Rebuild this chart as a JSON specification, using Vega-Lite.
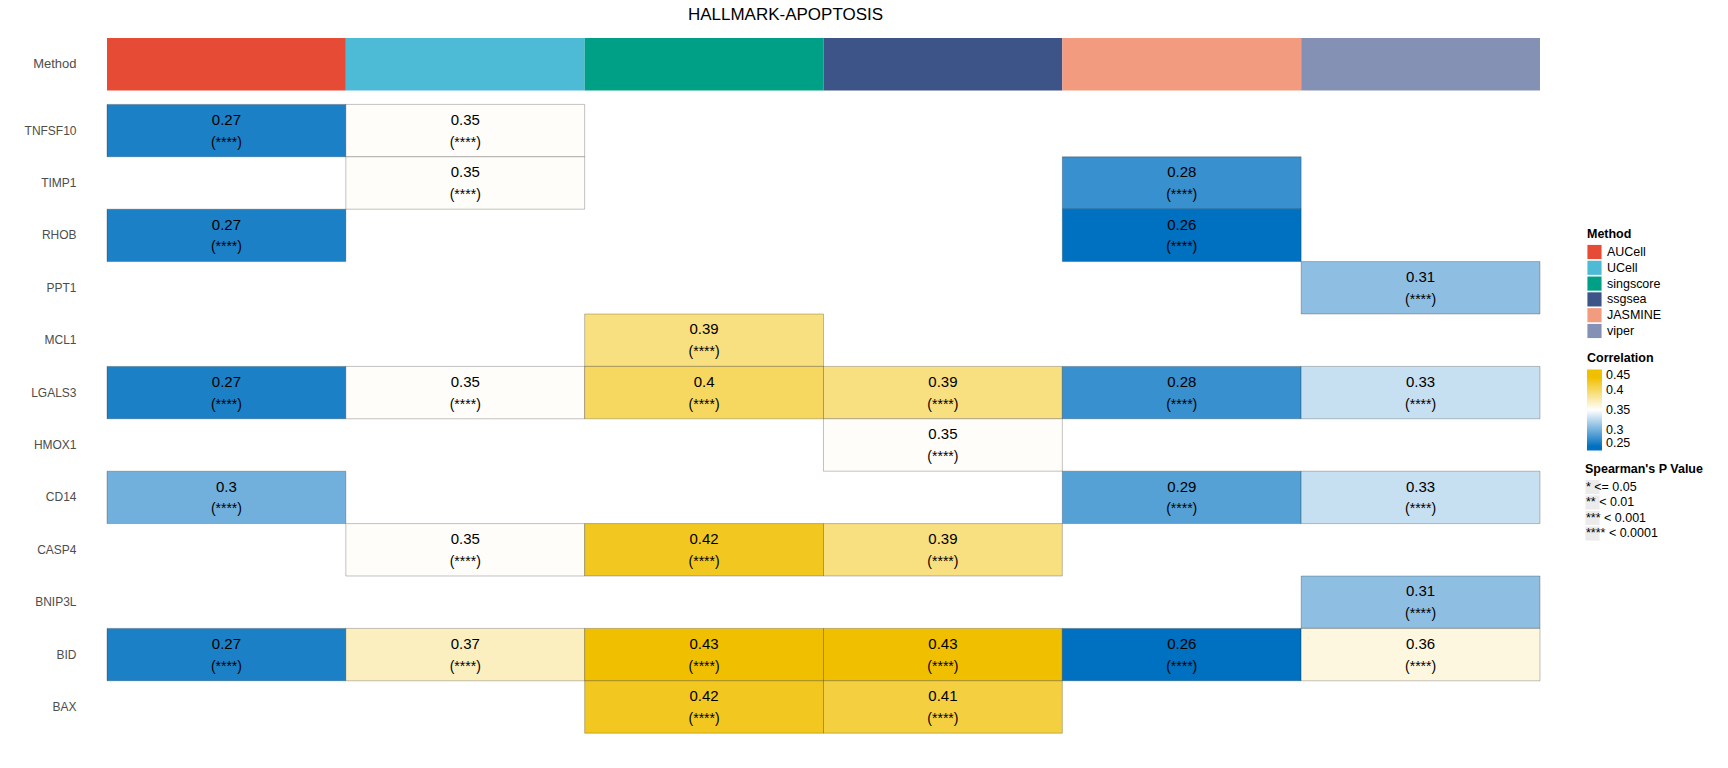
{
  "$schema": "https://vega.github.io/schema/vega-lite/v6.json",
  "padding": {"left": 23, "top": 6, "right": 5, "bottom": 5},
  "background": "white",
  "width": 1433,
  "height": 681.2,
  "title": {"text": "HALLMARK-APOPTOSIS", "anchor": "middle", "frame": "group", "dx": -38, "fontSize": 17, "fontWeight": "normal", "font": "Liberation Sans", "color": "#000000", "offset": 14},
  "config": {
    "view": {"stroke": null},
    "font": "Liberation Sans",
    "legend": {"titleFont": "Liberation Sans", "labelFont": "Liberation Sans", "titleColor": "#000000", "labelColor": "#000000"}
  },
  "datasets": {
    "methods": [
      {"row": "Method", "method": "AUCell"},
      {"row": "Method", "method": "UCell"},
      {"row": "Method", "method": "singscore"},
      {"row": "Method", "method": "ssgsea"},
      {"row": "Method", "method": "JASMINE"},
      {"row": "Method", "method": "viper"}
    ],
    "cells": [
      {"gene": "TNFSF10", "method": "AUCell", "r": 0.27, "p": "(****)"},
      {"gene": "TNFSF10", "method": "UCell", "r": 0.352, "p": "(****)"},
      {"gene": "TIMP1", "method": "UCell", "r": 0.352, "p": "(****)"},
      {"gene": "TIMP1", "method": "JASMINE", "r": 0.28, "p": "(****)"},
      {"gene": "RHOB", "method": "AUCell", "r": 0.27, "p": "(****)"},
      {"gene": "RHOB", "method": "JASMINE", "r": 0.26, "p": "(****)"},
      {"gene": "PPT1", "method": "viper", "r": 0.31, "p": "(****)"},
      {"gene": "MCL1", "method": "singscore", "r": 0.39, "p": "(****)"},
      {"gene": "LGALS3", "method": "AUCell", "r": 0.27, "p": "(****)"},
      {"gene": "LGALS3", "method": "UCell", "r": 0.352, "p": "(****)"},
      {"gene": "LGALS3", "method": "singscore", "r": 0.4, "p": "(****)"},
      {"gene": "LGALS3", "method": "ssgsea", "r": 0.39, "p": "(****)"},
      {"gene": "LGALS3", "method": "JASMINE", "r": 0.28, "p": "(****)"},
      {"gene": "LGALS3", "method": "viper", "r": 0.33, "p": "(****)"},
      {"gene": "HMOX1", "method": "ssgsea", "r": 0.352, "p": "(****)"},
      {"gene": "CD14", "method": "AUCell", "r": 0.3, "p": "(****)"},
      {"gene": "CD14", "method": "JASMINE", "r": 0.29, "p": "(****)"},
      {"gene": "CD14", "method": "viper", "r": 0.33, "p": "(****)"},
      {"gene": "CASP4", "method": "UCell", "r": 0.352, "p": "(****)"},
      {"gene": "CASP4", "method": "singscore", "r": 0.42, "p": "(****)"},
      {"gene": "CASP4", "method": "ssgsea", "r": 0.39, "p": "(****)"},
      {"gene": "BNIP3L", "method": "viper", "r": 0.31, "p": "(****)"},
      {"gene": "BID", "method": "AUCell", "r": 0.27, "p": "(****)"},
      {"gene": "BID", "method": "UCell", "r": 0.37, "p": "(****)"},
      {"gene": "BID", "method": "singscore", "r": 0.43, "p": "(****)"},
      {"gene": "BID", "method": "ssgsea", "r": 0.43, "p": "(****)"},
      {"gene": "BID", "method": "JASMINE", "r": 0.26, "p": "(****)"},
      {"gene": "BID", "method": "viper", "r": 0.36, "p": "(****)"},
      {"gene": "BAX", "method": "singscore", "r": 0.42, "p": "(****)"},
      {"gene": "BAX", "method": "ssgsea", "r": 0.41, "p": "(****)"}
    ],
    "plevels": [
      {"key": "*", "label": "<= 0.05"},
      {"key": "**", "label": "< 0.01"},
      {"key": "***", "label": "< 0.001"},
      {"key": "****", "label": "< 0.0001"}
    ]
  },
  "encoding": {
    "x": {"field": "method", "type": "nominal", "scale": {"domain": ["AUCell", "UCell", "singscore", "ssgsea", "JASMINE", "viper"], "paddingInner": 0, "paddingOuter": 0}, "axis": null},
    "y": {"field": "gene", "type": "nominal", "scale": {"domain": ["Method", "TNFSF10", "TIMP1", "RHOB", "PPT1", "MCL1", "LGALS3", "HMOX1", "CD14", "CASP4", "BNIP3L", "BID", "BAX"], "paddingInner": 0, "paddingOuter": 0},
      "axis": {"title": null, "ticks": false, "domain": false, "labelColor": "#4D4D4D", "labelPadding": 31, "labelFont": "Liberation Sans",
        "labelFontSize": {"condition": {"test": "datum.value === 'Method'", "value": 13}, "value": 12},
        "labelOffset": {"condition": {"test": "datum.value === 'Method'", "value": -14}, "value": 0}}}
  },
  "layer": [
    {
      "data": {"name": "methods"},
      "mark": {"type": "rect", "yOffset": -14, "y2Offset": -14},
      "encoding": {
        "y": {"field": "row", "type": "nominal"},
        "color": {
          "field": "method", "type": "nominal",
          "scale": {"domain": ["AUCell", "UCell", "singscore", "ssgsea", "JASMINE", "viper"], "range": ["#E64B35", "#4DBBD5", "#00A087", "#3C5488", "#F39B7F", "#8491B4"]},
          "legend": {"title": "Method", "orient": "none", "legendX": 1480, "legendY": 176, "symbolType": "square", "symbolSize": 200, "symbolStrokeWidth": 0, "symbolOpacity": 1, "titleFontSize": 12.5, "labelFontSize": 12.5, "rowPadding": 0.8, "titlePadding": 4, "labelOffset": 5}
        }
      }
    },
    {
      "data": {"name": "cells"},
      "mark": {"type": "rect", "stroke": "#000000", "strokeOpacity": 0.3, "strokeWidth": 0.8},
      "encoding": {
        "fill": {
          "field": "r", "type": "quantitative",
          "scale": {"domain": [0.25, 0.26, 0.35, 0.43, 0.45], "range": ["#0070C0", "#0070C0", "#FFFFFF", "#F0C000", "#F0C000"], "interpolate": "rgb", "clamp": true},
          "legend": {"title": "Correlation", "orient": "none", "legendX": 1480, "legendY": 300, "direction": "vertical", "gradientLength": 81, "gradientThickness": 15, "values": [0.25, 0.3, 0.35, 0.4, 0.45], "format": ".2~f", "titleFontSize": 12.5, "labelFontSize": 12.5, "labelOffset": 4, "titlePadding": 5, "gradientStrokeWidth": 0}
        }
      }
    },
    {
      "data": {"name": "cells"},
      "mark": {"type": "text", "fontSize": 15, "dy": -10.8, "color": "#000000", "baseline": "middle", "font": "Liberation Sans"},
      "encoding": {
        "text": {"field": "r", "type": "quantitative", "format": ".2~f"}
      }
    },
    {
      "data": {"name": "cells"},
      "mark": {"type": "text", "fontSize": 14, "dy": 12, "color": "#000000", "baseline": "middle", "font": "Liberation Sans"},
      "encoding": {
        "text": {"field": "p", "type": "nominal"}
      }
    },
    {
      "data": {"name": "plevels"},
      "mark": {"type": "point", "opacity": 0, "filled": true, "color": "#EBEBEB", "strokeWidth": 0},
      "encoding": {
        "x": {"value": 0},
        "y": {"value": 0},
        "shape": {
          "field": "key", "type": "nominal",
          "scale": {"domain": ["*", "**", "***", "****"], "range": ["square", "square", "square", "square"]},
          "legend": {"title": "Spearman's P Value", "orient": "none", "legendX": 1478, "legendY": 411, "symbolSize": 200, "symbolFillColor": "#EBEBEB", "symbolStrokeWidth": 0, "symbolOpacity": 1, "titleFontSize": 12.5, "labelFontSize": 12.5, "rowPadding": 0.5, "titlePadding": 4, "labelOffset": -14,
            "labelExpr": "({'*': '\\u2007\\u2007* <= 0.05', '**': '\\u2007\\u2008** < 0.01', '***': '\\u2008*** < 0.001', '****': '**** < 0.0001'})[datum.label]",
            "encode": {"symbols": {"update": {"opacity": {"value": 1}, "fill": {"value": "#EBEBEB"}, "fillOpacity": {"value": 1}, "strokeWidth": {"value": 0}}}}}
        }
      }
    }
  ]
}
